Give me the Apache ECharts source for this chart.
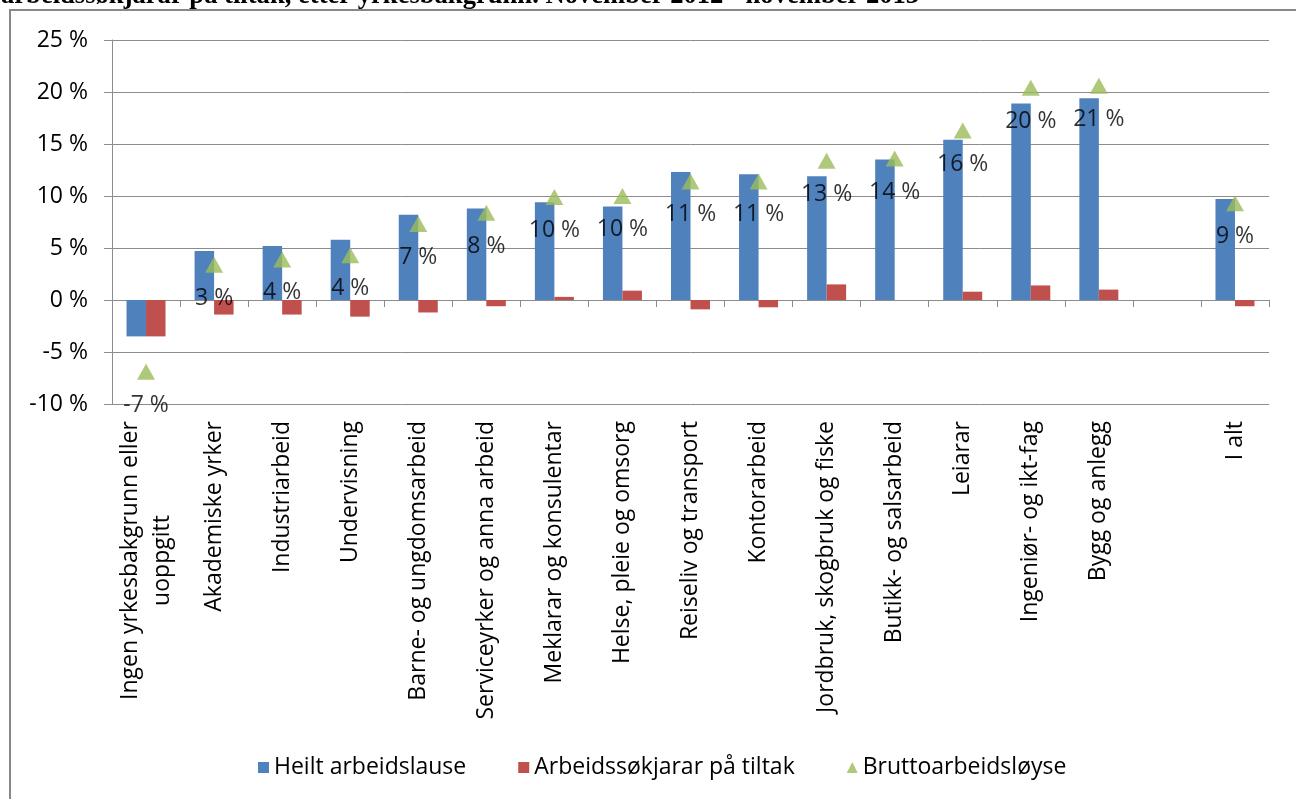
<!DOCTYPE html>
<html>
<head>
<meta charset="utf-8">
<script src="https://cdn.jsdelivr.net/npm/echarts@6/dist/echarts.min.js"></script>
<style>
  html, body { margin: 0; padding: 0; background: #fff; }
  #chart { width: 1296px; height: 799px; }
</style>
</head>
<body>
<div id="chart"></div>
<script>
const categories = [
  'Ingen yrkesbakgrunn eller\nuoppgitt', 'Akademiske yrker', 'Industriarbeid', 'Undervisning',
  'Barne- og ungdomsarbeid', 'Serviceyrker og anna arbeid', 'Meklarar og konsulentar',
  'Helse, pleie og omsorg', 'Reiseliv og transport', 'Kontorarbeid',
  'Jordbruk, skogbruk og fiske', 'Butikk- og salsarbeid', 'Leiarar',
  'Ingeniør- og ikt-fag', 'Bygg og anlegg', '', 'I alt'
]
// prosentvis endring
const heiltLedige = [-3.5, 4.7, 5.2, 5.8, 8.2, 8.8, 9.4, 9.0, 12.3, 12.1, 11.9, 13.5, 15.4, 18.9, 19.4, null, 9.7]
const paTiltak = [-3.5, -1.4, -1.4, -1.6, -1.2, -0.6, 0.3, 0.9, -0.9, -0.7, 1.5, 0, 0.8, 1.4, 1.0, null, -0.6]
const brutto = [-6.9, 3.4, 3.9, 4.3, 7.3, 8.4, 9.9, 10.0, 11.4, 11.4, 13.4, 13.6, 16.3, 20.4, 20.6, null, 9.3]
const yTicks = { min: -10, max: 25, step: 5 }

const titleText = 'arbeidssøkjarar på tiltak, etter yrkesbakgrunn. November 2012 - november 2013'
const font = '"Open Sans", sans-serif'
const gridColor = '#8c8c8c'

// bredde på første linje, for å sentrere andre linje under
const ctx = document.createElement('canvas').getContext('2d')
ctx.font = '23px "Open Sans"'
const firstLineWidth = Math.ceil(ctx.measureText(categories[0].split('\n')[0]).width)

const chart = echarts.init(document.getElementById('chart'))
chart.setOption({
  backgroundColor: '#fff',
  animation: false,
  graphic: [
    {
      type: 'rect',
      shape: { x: 10, y: 10, width: 1400, height: 900 },
      style: { fill: 'none', stroke: '#888', lineWidth: 2 },
      z: -1
    },
    {
      type: 'text',
      left: 1,
      top: -17,
      style: {
        text: titleText,
        font: 'bold 26.6px "Liberation Serif", serif',
        fill: '#000'
      }
    }
  ],
  grid: { left: 112, right: 27, top: 40, bottom: 395 },
  legend: {
    left: 253,
    top: 751,
    itemGap: 52,
    itemWidth: 11,
    itemHeight: 11,
    textStyle: { fontFamily: font, fontSize: 23, color: '#000' },
    data: [
      { name: 'Heilt arbeidslause', icon: 'rect' },
      { name: 'Arbeidssøkjarar på tiltak', icon: 'rect' },
      { name: 'Bruttoarbeidsløyse', icon: 'triangle' }
    ]
  },
  xAxis: [
    {
      type: 'category',
      data: categories,
      axisLine: { onZero: true, lineStyle: { color: gridColor } },
      axisTick: { show: true, interval: 0, length: 7, lineStyle: { color: gridColor } },
      axisLabel: { show: false }
    },
    {
      type: 'category',
      data: categories,
      position: 'bottom',
      axisLine: { show: false },
      axisTick: { show: false },
      axisLabel: {
        interval: 0,
        rotate: 90,
        margin: 17,
        fontFamily: font,
        fontSize: 23,
        color: '#000',
        lineHeight: 32,
        formatter: (v, i) => {
          if (i !== 0) return v
          return v.split('\n').map(s => '{c|' + s + '}').join('\n')
        },
        rich: {
          c: { width: firstLineWidth, align: 'center', fontFamily: font, fontSize: 23, lineHeight: 32, color: '#000' }
        }
      }
    }
  ],
  yAxis: {
    type: 'value',
    min: yTicks.min,
    max: yTicks.max,
    interval: yTicks.step,
    axisLine: { show: true, lineStyle: { color: gridColor } },
    axisTick: { show: true, length: 8, lineStyle: { color: gridColor } },
    axisLabel: {
      margin: 24,
      fontFamily: font,
      fontSize: 23,
      color: '#000',
      formatter: v => v + ' %'
    },
    splitLine: { lineStyle: { color: gridColor } }
  },
  series: [
    {
      name: 'Heilt arbeidslause',
      type: 'bar',
      data: heiltLedige,
      barWidth: 19.5,
      barGap: '0%',
      itemStyle: { color: '#4F81BD' }
    },
    {
      name: 'Arbeidssøkjarar på tiltak',
      type: 'bar',
      data: paTiltak,
      barWidth: 19.5,
      itemStyle: { color: '#C0504D' }
    },
    {
      name: 'Bruttoarbeidsløyse',
      type: 'scatter',
      data: brutto,
      symbol: 'triangle',
      symbolSize: [18, 16],
      itemStyle: { color: '#9BBB59' },
      label: {
        show: true,
        position: 'bottom',
        distance: 14,
        fontFamily: font,
        fontSize: 23,
        color: '#000',
        formatter: p => Math.round(p.value) + ' %'
      },
      z: 3
    }
  ]
})
</script>
</body>
</html>
